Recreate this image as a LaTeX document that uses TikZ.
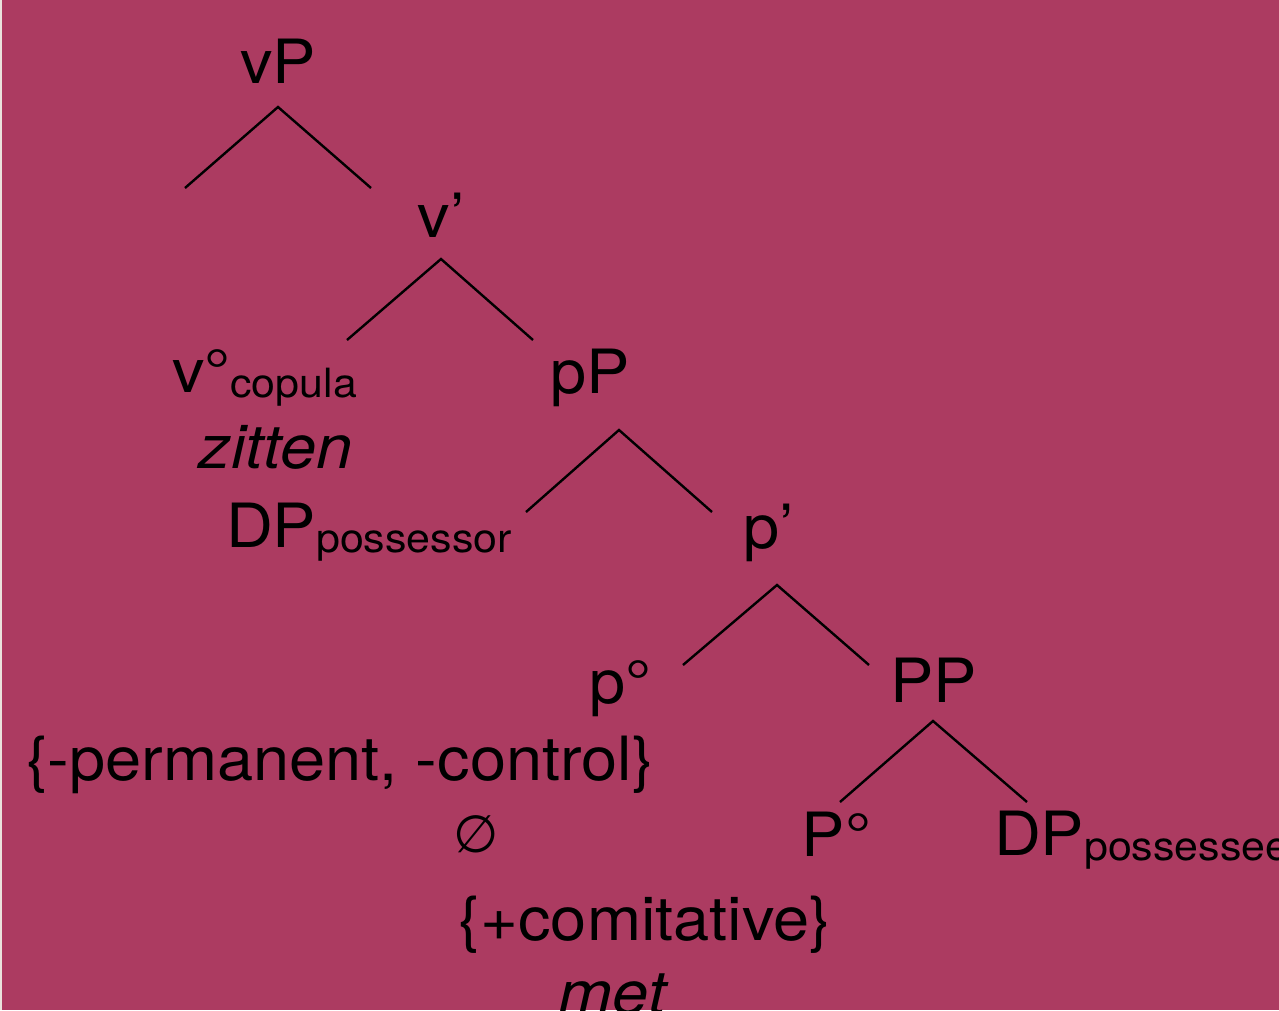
\documentclass[tikz,border=0pt]{standalone}
\usepackage{fontspec}
\setmainfont[FakeStretch=1.065]{TeX Gyre Heros}
\newfontfamily\symfont{DejaVu Sans}
\definecolor{bgcol}{HTML}{AC3B61}
\definecolor{stripcol}{HTML}{EAE3DD}
\newcommand\subtxt[1]{\raisebox{-5pt}{\fontsize{40.3}{40.3}\selectfont #1}}
\begin{document}
\begin{tikzpicture}[x=1pt,y=-1pt,
  lbl/.style={inner sep=0pt, outer sep=0pt, font=\fontsize{61}{61}\selectfont, anchor=base},
  lblw/.style={lbl, anchor=base west},
  branch/.style={line width=2.4pt, black, line join=miter}]
\useasboundingbox (0,0) rectangle (1279,1010);
\clip (0,0) rectangle (1279,1010);
\fill[bgcol] (0,0) rectangle (1279,1010);
\fill[stripcol] (0,0) rectangle (2,1010);

% labels
\node[lbl] (vP) at (278,83) {vP};
\node[lbl] (vbar) at (441,237) {v’};
\node[lblw] (vhead) at (172,392) {v°\subtxt{copula}};
\node[lbl] (zitten) at (275.5,468) {\itshape zitten};
\node[lbl] (pP) at (590.5,393) {pP};
\node[lblw] (DPor) at (226,547) {DP\subtxt{possessor}};
\node[lbl] (pbar) at (769,548) {p’};
\node[lbl] (phead) at (620.5,703) {p°};
\node[lbl] (PP) at (933.5,702) {PP};
\node[lbl] (pfeat) at (340,780) {\{-permanent, -control\}};
\node[lbl] (Phead) at (836.5,856) {P°};
\node[lblw] (DPee) at (994,855) {DP\subtxt{possessee}};
\node[lbl] (empty) at (476.5,852) {\symfont\fontsize{52}{52}\selectfont ∅};
\node[lbl] (Pfeat) at (645,940) {\{+comitative\}};
\node[lbl] (met) at (612.5,1014) {\itshape met};

% branch points
\coordinate (vPtop) at (278,107);
\coordinate (vPl) at (185,188);
\coordinate (vPr) at (371,188);
\coordinate (vbartop) at (441,259);
\coordinate (vbarl) at (347,340);
\coordinate (vbarr) at (533,340);
\coordinate (pPtop) at (619,430);
\coordinate (pPl) at (526,512);
\coordinate (pPr) at (712,512);
\coordinate (pbartop) at (777,585);
\coordinate (pbarl) at (683,665);
\coordinate (pbarr) at (869,665);
\coordinate (PPtop) at (933,721);
\coordinate (PPl) at (840,802);
\coordinate (PPr) at (1027,802);

\draw[branch] (vPl) -- (vPtop) -- (vPr);
\draw[branch] (vbarl) -- (vbartop) -- (vbarr);
\draw[branch] (pPl) -- (pPtop) -- (pPr);
\draw[branch] (pbarl) -- (pbartop) -- (pbarr);
\draw[branch] (PPl) -- (PPtop) -- (PPr);
\end{tikzpicture}
\end{document}
